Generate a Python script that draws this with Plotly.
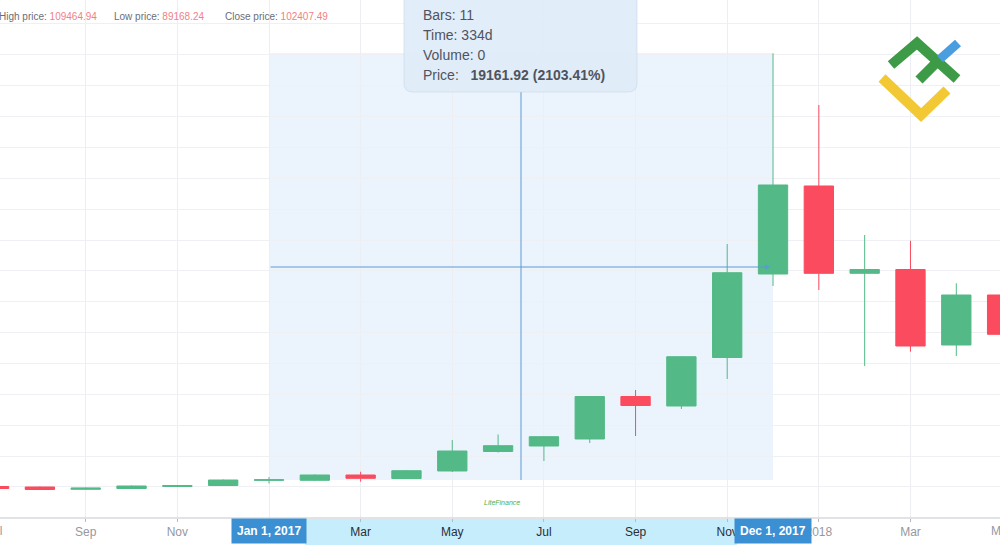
import plotly.graph_objects as go

# ---------------- data (monthly candles, Jul 2016 - May 2018) ----------------
months = ["Jul 2016", "Aug 2016", "Sep 2016", "Oct 2016", "Nov 2016", "Dec 2016",
          "Jan 2017", "Feb 2017", "Mar 2017", "Apr 2017", "May 2017", "Jun 2017",
          "Jul 2017", "Aug 2017", "Sep 2017", "Oct 2017", "Nov 2017", "Dec 2017",
          "Jan 2018", "Feb 2018", "Mar 2018", "Apr 2018", "May 2018"]
open_ = [619, 597, 494, 529, 619, 664, 897, 897, 1135, 978, 1315, 2190,
         2436, 2751, 4657, 4231, 6407, 10154, 14103, 10185, 10356, 6968, 9212]
high = [642, 619, 574, 664, 687, 933, 1045, 1158, 1283, 1360, 2706, 2952,
        2885, 4680, 4949, 6475, 11500, 20057, 17737, 11904, 11648, 9737, 9526]
low = [507, 462, 471, 507, 597, 642, 754, 866, 835, 956, 1270, 2145,
       1763, 2571, 2885, 4097, 5443, 9616, 9436, 6026, 6668, 6475, 7193]
close = [529, 485, 552, 642, 664, 911, 920, 1135, 987, 1328, 2212, 2450,
         2854, 4657, 4254, 6443, 10212, 14148, 10185, 10356, 6923, 9212, 7448]

tick_idx = [2, 4, 6, 8, 10, 12, 14, 16, 18, 20]
tick_labels = ["Sep", "Nov", "", "Mar", "May", "Jul", "Sep", "Nov", "2018", "Mar"]
tick_in_range = [False, False, True, True, True, True, True, True, False, False]
edge_ticks = [(0, "Jul"), (22, "May")]   # month ticks at the cut-off edges

header_labels = ["High price:", "Low price:", "Close price:"]
header_values = ["109464.94", "89168.24", "102407.49"]

measure_start, measure_end = 6, 17          # Jan 1, 2017 -> Dec 1, 2017
measure_low, measure_high = 911, 20073
measure_text = ["Bars: 11", "Time: 334d", "Volume: 0"]
measure_price = "19161.92 (2103.41%)"
range_labels = ["Jan 1, 2017", "Dec 1, 2017"]

# ---------------- figure ----------------
W, H = 1000, 545
ML, MR, MT, MB = 0, 0, 0, 27
PH = H - MT - MB
SPACING = 45.82          # px per monthly bar
X_JAN = 269              # px position of Jan 2017 bar


def px(xp):
    return xp / W


def py(yp):
    return (PH - yp) / PH


GREEN = "#53b987"
RED = "#fb4b5e"
FONT = "Liberation Sans, Arial, sans-serif"
GREY_TXT = "#9598a1"
DARK_TXT = "#2a2e39"

x = list(range(len(months)))

fig = go.Figure()
fig.add_trace(go.Candlestick(
    x=x, open=open_, high=high, low=low, close=close,
    increasing=dict(line=dict(color=GREEN, width=1), fillcolor=GREEN),
    decreasing=dict(line=dict(color=RED, width=1), fillcolor=RED),
    whiskerwidth=0, hoverinfo="skip", showlegend=False,
))

ticktext = []
for lab, inr in zip(tick_labels, tick_in_range):
    col = DARK_TXT if inr else GREY_TXT
    ticktext.append(f"<span style='color:{col}'>{lab}</span>")

shapes = []
annotations = []

# measurement box
shapes.append(dict(type="rect", xref="x", yref="y", x0=measure_start, x1=measure_end,
                   y0=measure_low, y1=measure_high, fillcolor="rgba(30,136,229,0.09)",
                   line=dict(width=0), layer="below"))
# vertical line of the measure tool
shapes.append(dict(type="line", xref="x", yref="y", x0=11.5, x1=11.5,
                   y0=measure_low, y1=18320, line=dict(color="#5b9bd5", width=1)))
# x-axis highlight band
shapes.append(dict(type="rect", xref="paper", yref="paper", x0=px(305), x1=px(737),
                   y0=py(519), y1=py(545), fillcolor="#c6edfb", line=dict(width=0), layer="below"))
# axis line
shapes.append(dict(type="line", xref="paper", yref="paper", x0=0, x1=1,
                   y0=py(518), y1=py(518), line=dict(color="#c3c6cd", width=1)))

# tooltip panel with rounded bottom corners
r = 9
x0t, x1t, y0t, y1t = 404, 637, -6, 92
path = (f"M {px(x0t)},{py(y0t)} L {px(x0t)},{py(y1t - r)} Q {px(x0t)},{py(y1t)} {px(x0t + r)},{py(y1t)} "
        f"L {px(x1t - r)},{py(y1t)} Q {px(x1t)},{py(y1t)} {px(x1t)},{py(y1t - r)} L {px(x1t)},{py(y0t)} Z")
shapes.append(dict(type="path", xref="paper", yref="paper", path=path,
                   fillcolor="rgba(222,236,249,0.92)", line=dict(color="rgba(200,215,230,0.6)", width=1)))

# logo
def poly(pts, color, width):
    d = "M " + " L ".join(f"{px(a)},{py(b)}" for a, b in pts)
    return dict(type="path", xref="paper", yref="paper", path=d,
                line=dict(color=color, width=width))

shapes.append(poly([(882, 78), (921, 115), (947, 90)], "#f2c935", 10))
shapes.append(poly([(891, 65), (917, 43), (957, 79)], "#3d9a47", 10))
shapes.append(poly([(919, 80), (941, 58)], "#3d9a47", 10))
shapes.append(poly([(940, 59), (958, 43)], "#4a9ee0", 9))

# arrow of the measure tool
annotations.append(dict(x=measure_end - 0.06, y=10468, xref="x", yref="y",
                        ax=measure_start, ay=10468, axref="x", ayref="y",
                        showarrow=True, arrowhead=2, arrowsize=1, arrowwidth=1,
                        arrowcolor="#5b9bd5", text=""))

# tooltip text
for i, t in enumerate(measure_text):
    annotations.append(dict(x=px(421), y=py(15 + 20 * i), xref="paper", yref="paper",
                            xanchor="left", yanchor="middle", showarrow=False, text=t,
                            font=dict(family=FONT, size=14, color="#50535e")))
annotations.append(dict(x=px(421), y=py(75), xref="paper", yref="paper",
                        xanchor="left", yanchor="middle", showarrow=False,
                        text="Price:\u00a0\u00a0\u00a0<b>" + measure_price + "</b>",
                        font=dict(family=FONT, size=14, color="#50535e")))

# header
hx = [-3, 112, 223]
for xp, lab, val in zip(hx, header_labels, header_values):
    annotations.append(dict(x=px(xp), y=py(16), xref="paper", yref="paper",
                            xanchor="left", yanchor="middle", showarrow=False,
                            text=f"<span style='color:#6a6d78'>{lab}</span> <span style='color:#f07f86'>{val}</span>",
                            font=dict(family=FONT, size=10)))

# edge month labels (partly cut by the frame)
for idx, lab in edge_ticks:
    xpix = X_JAN + (idx - 6) * SPACING
    annotations.append(dict(x=px(xpix), y=py(531), xref="paper", yref="paper", showarrow=False,
                            text=lab, font=dict(family=FONT, size=12, color=GREY_TXT),
                            xanchor="center", yanchor="middle"))

# highlighted date labels
for xi, lab in zip([measure_start, measure_end], range_labels):
    annotations.append(dict(x=xi, y=py(531), xref="x", yref="paper", showarrow=False,
                            text=f"<b>{lab}</b>", bgcolor="#3b8fd3", borderpad=5,
                            font=dict(family=FONT, size=12, color="white"),
                            xanchor="center", yanchor="middle"))

# watermark
annotations.append(dict(x=px(502), y=py(508), xref="paper", yref="paper", showarrow=False,
                        text="<i>LiteFinance</i>", font=dict(family=FONT, size=7, color="#4caf50")))

x_lo = 6 - X_JAN / SPACING
x_hi = 6 + (W - X_JAN) / SPACING
y_lo = (500.3 - PH) * 44.87
y_hi = 500.3 * 44.87

fig.update_layout(
    width=W, height=H,
    margin=dict(l=ML, r=MR, t=MT, b=MB),
    paper_bgcolor="white", plot_bgcolor="white",
    boxgap=0.2, boxgroupgap=0.2,
    shapes=shapes, annotations=annotations,
    xaxis=dict(range=[x_lo, x_hi], tickmode="array", tickvals=tick_idx, ticktext=ticktext,
               showgrid=True, gridcolor="#eceef2", zeroline=False, showline=False,
               ticks="outside", ticklen=3, tickcolor="#b8bbc3",
               tickfont=dict(family=FONT, size=12), rangeslider=dict(visible=False),
               fixedrange=True),
    yaxis=dict(range=[y_lo, y_hi], showticklabels=False, tick0=597, dtick=1385,
               showgrid=True, gridcolor="#eef0f4", zeroline=False, showline=False,
               fixedrange=True),
    showlegend=False,
)

fig.write_html("out.html", config={"displayModeBar": False},
               post_script="document.body.style.margin='0';document.body.style.overflow='hidden';")
